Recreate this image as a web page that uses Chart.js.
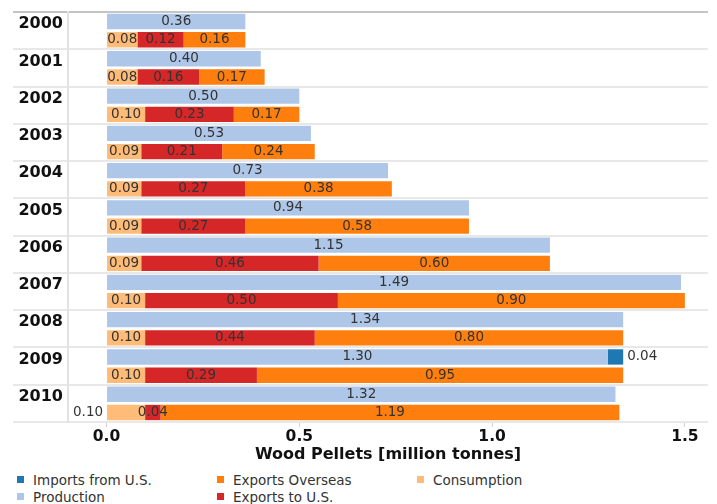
<!DOCTYPE html>
<html>
<head>
<meta charset="utf-8">
<script src="https://cdn.jsdelivr.net/npm/chart.js@4/dist/chart.umd.min.js"></script>
<style>
  html, body { margin: 0; padding: 0; background: #fff; }
  #wrap { position: relative; width: 717px; height: 504px; }
  #box { position: absolute; left: 0; top: 0; width: 717px; height: 470px; }
  #legend {
    position: absolute; left: 17px; top: 471px;
    display: grid; grid-auto-flow: column;
    grid-template-rows: 17px 17px;
    grid-template-columns: 200px 200px 200px;
    font: 13.5px "DejaVu Sans", sans-serif; color: #333;
  }
  .item { display: flex; align-items: center; white-space: nowrap; }
  .sw { width: 7px; height: 7px; margin-right: 9px; flex: none; }
</style>
</head>
<body>
<div id="wrap">
  <div id="box"><canvas id="c"></canvas></div>
  <div id="legend"></div>
</div>
<script>
// Wood pellet balance by year (million tonnes)
const years = ['2000', '2001', '2002', '2003', '2004', '2005', '2006', '2007', '2008', '2009', '2010'];
const production      = [0.36, 0.40, 0.50, 0.53, 0.73, 0.94, 1.15, 1.49, 1.34, 1.30, 1.32];
const importsFromUS   = [null, null, null, null, null, null, null, null, null, 0.04, null];
const consumption     = [0.08, 0.08, 0.10, 0.09, 0.09, 0.09, 0.09, 0.10, 0.10, 0.10, 0.10];
const exportsToUS     = [0.12, 0.16, 0.23, 0.21, 0.27, 0.27, 0.46, 0.50, 0.44, 0.29, 0.04];
const exportsOverseas = [0.16, 0.17, 0.17, 0.24, 0.38, 0.58, 0.60, 0.90, 0.80, 0.95, 1.19];
const xTicks = [0, 0.5, 1.0, 1.5];

const FONT = '"DejaVu Sans", sans-serif';
const COLORS = {
  'Imports from U.S.': '#1f77b4',
  'Production': '#aec7e8',
  'Exports Overseas': '#ff7f0e',
  'Exports to U.S.': '#d62728',
  'Consumption': '#ffbb78'
};
const legendOrder = ['Imports from U.S.', 'Production', 'Exports Overseas', 'Exports to U.S.', 'Consumption'];

// value labels that sit beside their segment instead of inside it
const sideLabels = { 'Imports from U.S.|2009': 'right', 'Consumption|2010': 'left' };

function ds(label, data, stack) {
  return {
    label, data, stack,
    backgroundColor: COLORS[label],
    borderWidth: 0,
    categoryPercentage: 0.98,
    barPercentage: 0.84
  };
}

const valueLabels = {
  id: 'valueLabels',
  afterDatasetsDraw(chart) {
    const ctx = chart.ctx;
    ctx.save();
    ctx.font = '13.5px ' + FONT;
    ctx.fillStyle = '#333';
    ctx.textBaseline = 'middle';
    chart.data.datasets.forEach((d, i) => {
      const meta = chart.getDatasetMeta(i);
      meta.data.forEach((el, j) => {
        const v = d.data[j];
        if (v === null || v === undefined) return;
        const txt = v.toFixed(2);
        const side = sideLabels[d.label + '|' + chart.data.labels[j]];
        const lo = Math.min(el.x, el.base), hi = Math.max(el.x, el.base);
        if (side === 'right') {
          ctx.textAlign = 'left';
          ctx.fillText(txt, hi + 4, el.y);
        } else if (side === 'left') {
          ctx.textAlign = 'right';
          ctx.fillText(txt, lo - 4, el.y);
        } else {
          ctx.textAlign = 'center';
          ctx.fillText(txt, (lo + hi) / 2, el.y);
        }
      });
    });
    ctx.restore();
  }
};

const chart = new Chart(document.getElementById('c'), {
  type: 'bar',
  data: {
    labels: years,
    datasets: [
      ds('Production', production, 'supply'),
      ds('Imports from U.S.', importsFromUS, 'supply'),
      ds('Consumption', consumption, 'use'),
      ds('Exports to U.S.', exportsToUS, 'use'),
      ds('Exports Overseas', exportsOverseas, 'use')
    ]
  },
  options: {
    indexAxis: 'y',
    responsive: true,
    maintainAspectRatio: false,
    animation: false,
    layout: { padding: { top: 12, right: 9, left: 0, bottom: 0 } },
    plugins: { legend: { display: false }, tooltip: { enabled: false } },
    scales: {
      x: {
        type: 'linear', stacked: true, min: -0.1, max: 1.56,
        afterBuildTicks: s => { s.ticks = xTicks.map(v => ({ value: v })); },
        afterFit: s => { s.height = 48; },
        grid: { drawOnChartArea: false, drawTicks: true, tickLength: 5, color: '#d0d0d0' },
        border: { display: false },
        ticks: {
          padding: 1, color: '#111',
          font: { family: FONT, size: 15.5, weight: 'bold' },
          callback: v => Number(v).toFixed(1)
        },
        title: {
          display: true, text: 'Wood Pellets [million tonnes]', color: '#111',
          font: { family: FONT, size: 16, weight: 'bold' },
          padding: { top: 0, bottom: 6 }
        }
      },
      y: {
        type: 'category', offset: true,
        afterFit: s => { s.width = 68; },
        grid: {
          offset: true, tickLength: 55, lineWidth: 2,
          color: c => c.index === 0 ? '#c4c4c4' : '#e8e8e8'
        },
        border: { display: true, color: '#e2e2e2', width: 2 },
        ticks: {
          padding: -50, labelOffset: -6.5, color: '#111',
          font: { family: FONT, size: 16, weight: 'bold' }
        }
      }
    }
  },
  plugins: [valueLabels]
});

// legend laid out in columns: two entries per column
const legend = document.getElementById('legend');
legendOrder.forEach(name => {
  const item = document.createElement('div');
  item.className = 'item';
  const sw = document.createElement('span');
  sw.className = 'sw';
  sw.style.background = COLORS[name];
  const tx = document.createElement('span');
  tx.textContent = name;
  item.appendChild(sw);
  item.appendChild(tx);
  legend.appendChild(item);
});
</script>
</body>
</html>
